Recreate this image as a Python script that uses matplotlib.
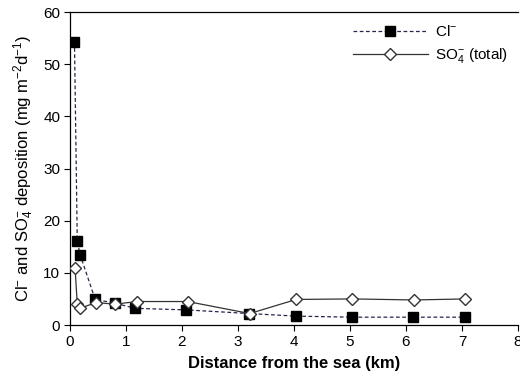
import numpy as np
import matplotlib
matplotlib.use("Agg")
import matplotlib.pyplot as plt

plt.rcParams["font.family"] = ["Liberation Sans", "DejaVu Sans"]
plt.rcParams["mathtext.default"] = "regular"

# Data
cl_dist = [0.08, 0.13, 0.18, 0.45, 0.80, 1.16, 2.07, 3.20, 4.04, 5.04, 6.13, 7.06]
cl_dep = [54.3, 16.1, 13.5, 4.9, 4.2, 3.2, 2.9, 2.2, 1.7, 1.5, 1.5, 1.5]

so4_dist = [0.09, 0.13, 0.18, 0.46, 0.80, 1.20, 2.10, 3.21, 4.04, 5.04, 6.15, 7.06]
so4_dep = [11.0, 4.0, 3.2, 4.3, 4.0, 4.5, 4.5, 2.2, 4.9, 5.0, 4.8, 5.0]

xticks = [0, 1, 2, 3, 4, 5, 6, 7, 8]
yticks = [0, 10, 20, 30, 40, 50, 60]

fig = plt.figure(figsize=(5.2, 3.78), dpi=100)
ax = fig.add_axes([0.1346, 0.1402, 0.8615, 0.828])

ax.plot(cl_dist, cl_dep, color="#26264d", linestyle=(0, (3, 2)), lw=0.9,
        marker="s", markersize=7.2, markerfacecolor="black",
        markeredgecolor="black", label="Cl$^{-}$", zorder=3)
ax.plot(so4_dist, so4_dep, color="#333333", linestyle="-", lw=0.9,
        marker="D", markersize=6.5, markerfacecolor="white",
        markeredgecolor="#333333", markeredgewidth=1.0,
        label="SO$_4^{-}$ (total)", zorder=4)

ax.set_xlim(0, 8)
ax.set_ylim(0, 60)
ax.set_xticks(xticks)
ax.set_yticks(yticks)
ax.tick_params(direction="out", length=4, width=0.8, labelsize=11, pad=3)
ax.spines["right"].set_visible(False)
for s in ["left", "bottom", "top"]:
    ax.spines[s].set_linewidth(0.9)

ax.set_xlabel("Distance from the sea (km)", fontsize=12, fontweight="bold", labelpad=5)
ax.set_ylabel("Cl$^{-}$ and SO$_4^{-}$ deposition (mg m$^{-2}$d$^{-1}$)", fontsize=12, labelpad=5)

ax.legend(loc="upper left", bbox_to_anchor=(0.652, 0.972), bbox_transform=fig.transFigure,
          frameon=False, fontsize=11, handlelength=4.9, handletextpad=0.45, labelspacing=0.45)

fig.savefig("out.png", dpi=100)
